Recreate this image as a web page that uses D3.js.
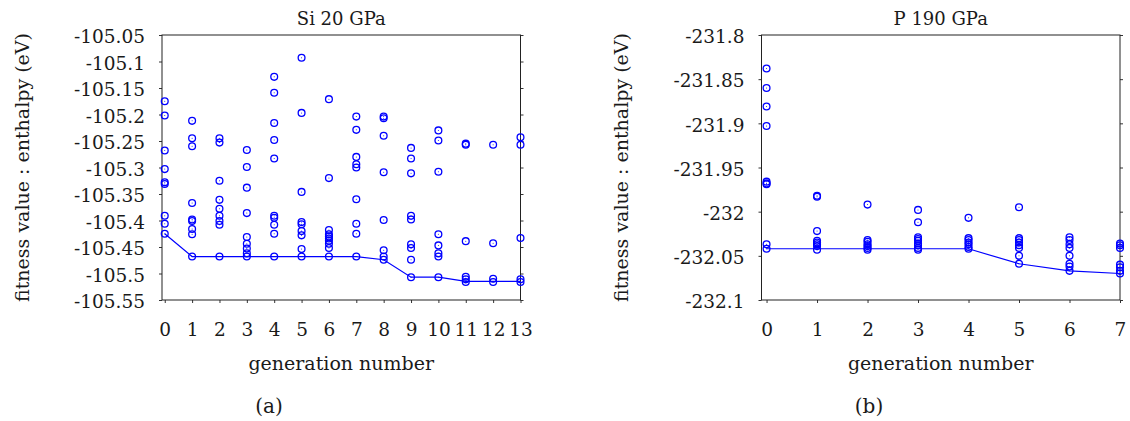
<!DOCTYPE html>
<html>
<head>
<meta charset="utf-8">
<script src="https://cdn.jsdelivr.net/npm/d3@7"></script>
<style>
  body { margin: 0; background: #fff; }
  svg text { font-family: "DejaVu Serif", serif; fill: #1a1a1a; }
</style>
</head>
<body>
<svg id="chart" width="1130" height="421"></svg>
<script>
// Si 20 GPa: enthalpy of every structure, one array per generation
var siPoints = [
    [-105.175, -105.202, -105.268, -105.303, -105.328, -105.331, -105.391, -105.406, -105.425],
    [-105.212, -105.245, -105.260, -105.367, -105.398, -105.401, -105.416, -105.426, -105.468],
    [-105.245, -105.253, -105.325, -105.361, -105.378, -105.391, -105.401, -105.408, -105.468],
    [-105.267, -105.299, -105.338, -105.386, -105.431, -105.444, -105.453, -105.462, -105.468],
    [-105.129, -105.159, -105.216, -105.248, -105.283, -105.391, -105.395, -105.408, -105.425, -105.468],
    [-105.093, -105.197, -105.346, -105.403, -105.407, -105.420, -105.428, -105.454, -105.468],
    [-105.171, -105.320, -105.418, -105.426, -105.430, -105.434, -105.438, -105.444, -105.452, -105.468],
    [-105.204, -105.229, -105.280, -105.294, -105.300, -105.360, -105.406, -105.425, -105.468],
    [-105.204, -105.207, -105.240, -105.309, -105.399, -105.456, -105.468, -105.474],
    [-105.263, -105.283, -105.311, -105.391, -105.398, -105.445, -105.452, -105.474, -105.507],
    [-105.230, -105.249, -105.308, -105.426, -105.447, -105.462, -105.468, -105.507],
    [-105.255, -105.257, -105.439, -105.506, -105.511, -105.516],
    [-105.257, -105.443, -105.510, -105.516],
    [-105.243, -105.257, -105.433, -105.511, -105.516]
];
var siBest = [-105.425, -105.468, -105.468, -105.468, -105.468, -105.468, -105.468,
              -105.468, -105.474, -105.507, -105.507, -105.515, -105.515, -105.515];
var siYTicks = [-105.55, -105.5, -105.45, -105.4, -105.35, -105.3, -105.25,
                -105.2, -105.15, -105.1, -105.05];
var siXTicks = [0, 1, 2, 3, 4, 5, 6, 7, 8, 9, 10, 11, 12, 13];

// P 190 GPa
var pPoints = [
    [-231.838, -231.860, -231.881, -231.903, -231.966, -231.968, -231.969, -232.037, -232.042],
    [-231.982, -231.983, -232.022, -232.033, -232.035, -232.037, -232.039, -232.043],
    [-231.992, -232.032, -232.034, -232.037, -232.039, -232.041, -232.043],
    [-231.998, -232.012, -232.029, -232.031, -232.033, -232.036, -232.038, -232.041, -232.043],
    [-232.007, -232.030, -232.032, -232.035, -232.037, -232.040, -232.042],
    [-231.995, -232.030, -232.032, -232.035, -232.038, -232.041, -232.050, -232.059],
    [-232.029, -232.032, -232.037, -232.041, -232.050, -232.059, -232.062, -232.067],
    [-232.036, -232.038, -232.041, -232.060, -232.063, -232.067, -232.070]
];
var pBest = [-232.042, -232.042, -232.042, -232.042, -232.042, -232.059, -232.067, -232.070];
var pYTicks = [-232.1, -232.05, -232, -231.95, -231.9, -231.85, -231.8];
var pXTicks = [0, 1, 2, 3, 4, 5, 6, 7];

var svg = d3.select("#chart");

function render(panel) {
    var x = d3.scaleLinear().domain(panel.xDomain).range([panel.left, panel.right]);
    var y = d3.scaleLinear().domain(panel.yDomain).range([panel.bottom, panel.top]);
    var g = svg.append("g");

    // axes: ticks point outward, labels only on left and bottom
    g.append("g")
        .attr("transform", "translate(" + panel.left + ",0)")
        .call(d3.axisLeft(y).tickValues(panel.yTicks).tickSize(3).tickPadding(14)
            .tickFormat(function(d) { return String(d); }))
        .call(function(a) {
            a.select(".domain").remove();
            a.selectAll("text").style("font-size", "18.5px").attr("dy", "0.42em");
        });

    g.append("g")
        .attr("transform", "translate(" + panel.right + ",0)")
        .call(d3.axisRight(y).tickValues(panel.yTicks).tickSize(3).tickFormat(""))
        .call(function(a) { a.select(".domain").remove(); });

    g.append("g")
        .attr("transform", "translate(0," + panel.bottom + ")")
        .call(d3.axisBottom(x).tickValues(panel.xTicks).tickSize(3))
        .call(function(a) {
            a.select(".domain").remove();
            a.selectAll("text").style("font-size", "18.5px").attr("y", 36).attr("dy", "0");
        });

    g.selectAll(".tick line").attr("stroke", "#333");

    g.append("rect")
        .attr("x", panel.left)
        .attr("y", panel.top)
        .attr("width", panel.right - panel.left)
        .attr("height", panel.bottom - panel.top)
        .attr("fill", "none")
        .attr("stroke", "#222")
        .attr("stroke-width", 1);

    // best-so-far line
    var line = d3.line()
        .x(function(d, i) { return x(i); })
        .y(function(d) { return y(d); });
    g.append("path")
        .datum(panel.best)
        .attr("d", line)
        .attr("fill", "none")
        .attr("stroke", "#0000ff")
        .attr("stroke-width", 1.2);

    // flatten generations into points
    var pts = [];
    panel.points.forEach(function(gen, i) {
        gen.forEach(function(v) { pts.push({gen: i, value: v}); });
    });

    g.selectAll(".dot")
        .data(pts)
        .enter()
        .append("circle")
            .attr("class", "dot")
            .attr("cx", function(d) { return x(d.gen); })
            .attr("cy", function(d) { return y(d.value); })
            .attr("r", 3.4)
            .attr("fill", "none")
            .attr("stroke", "#0000ff")
            .attr("stroke-width", 1.3);

    g.selectAll(".center")
        .data(pts)
        .enter()
        .append("circle")
            .attr("cx", function(d) { return x(d.gen); })
            .attr("cy", function(d) { return y(d.value); })
            .attr("r", 0.5)
            .attr("fill", "#0000ff");

    // titles and labels
    g.append("text")
        .attr("x", (panel.left + panel.right) / 2)
        .attr("y", 25)
        .attr("text-anchor", "middle")
        .style("font-size", "18px")
        .text(panel.title);

    g.append("text")
        .attr("transform", "translate(" + panel.yLabelX + "," + (panel.top + panel.bottom) / 2 + ") rotate(-90)")
        .attr("text-anchor", "middle")
        .style("font-size", "19px")
        .text("fitness value : enthalpy (eV)");

    g.append("text")
        .attr("x", (panel.left + panel.right) / 2)
        .attr("y", 370)
        .attr("text-anchor", "middle")
        .style("font-size", "19px")
        .text("generation number");

    g.append("text")
        .attr("x", panel.captionX)
        .attr("y", 413)
        .attr("text-anchor", "middle")
        .style("font-size", "20px")
        .text(panel.caption);
}

render({
    points: siPoints, best: siBest, yTicks: siYTicks, xTicks: siXTicks,
    xDomain: [-0.1, 13], yDomain: [-105.55, -105.05],
    left: 162, right: 520.5, top: 35, bottom: 300,
    title: "Si 20 GPa", yLabelX: 29, caption: "(a)", captionX: 269
});

render({
    points: pPoints, best: pBest, yTicks: pYTicks, xTicks: pXTicks,
    xDomain: [-0.1, 7], yDomain: [-232.1, -231.8],
    left: 761.5, right: 1120, top: 35, bottom: 300,
    title: "P 190 GPa", yLabelX: 628, caption: "(b)", captionX: 869
});
</script>
</body>
</html>
